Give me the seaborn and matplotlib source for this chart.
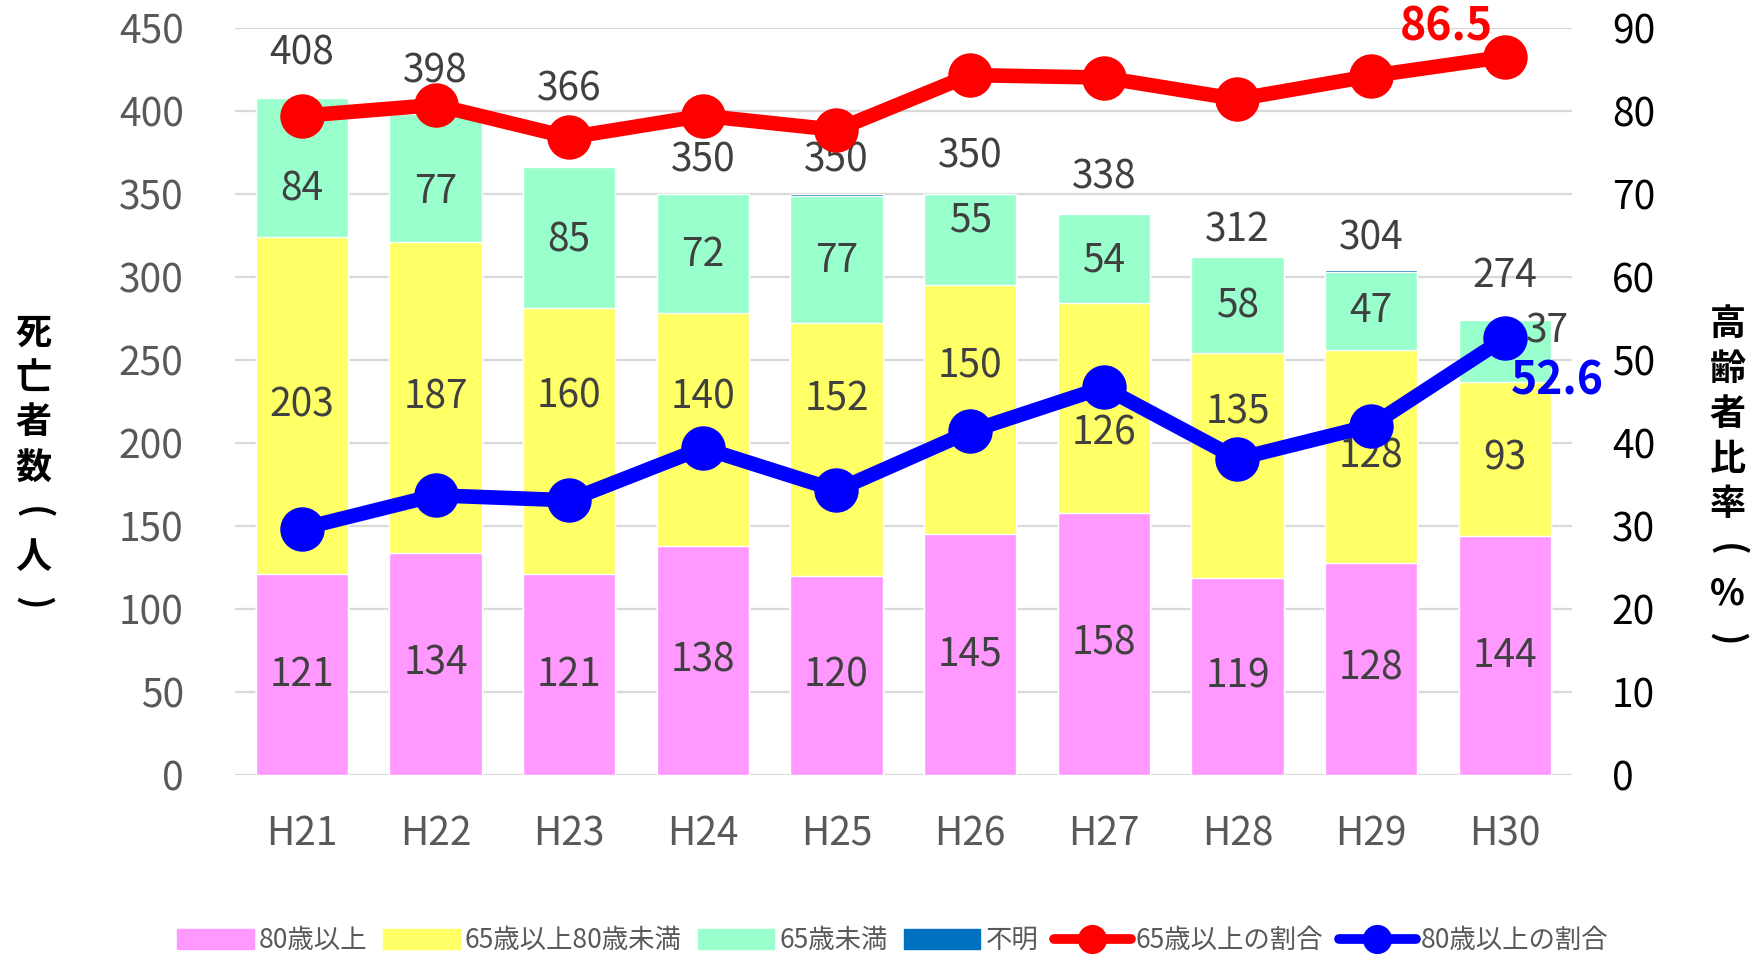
import numpy as np
import pandas as pd
import seaborn as sns
import matplotlib.pyplot as plt
from matplotlib.patches import Patch
from matplotlib.lines import Line2D

years = ['H21', 'H22', 'H23', 'H24', 'H25', 'H26', 'H27', 'H28', 'H29', 'H30']
over80 = [121, 134, 121, 138, 120, 145, 158, 119, 128, 144]
age65_80 = [203, 187, 160, 140, 152, 150, 126, 135, 128, 93]
under65 = [84, 77, 85, 72, 77, 55, 54, 58, 47, 37]
unknown = [0, 0, 0, 0, 1, 0, 0, 0, 1, 0]
totals = [408, 398, 366, 350, 350, 350, 338, 312, 304, 274]
ratio65 = [79.4, 80.7, 76.8, 79.4, 77.7, 84.3, 84.0, 81.4, 84.2, 86.5]
ratio80 = [29.7, 33.7, 33.1, 39.4, 34.3, 41.4, 46.7, 38.1, 42.1, 52.6]

# label nudges (points), the original chart had hand-moved labels
total_dy = [32, 31, 56, 24, 24, 27, 26, 19, 23, 32]
yellow_dy = [0, 0, 32, 23, 36, 31, -18, 38, 0, 0]
mint_dy = [-16, -10, -2, -1, -1, 14, -1, -1, 0, 14]
mint_dx = [0, 0, 0, 0, 0, 0, 0, 0, 0, 31]

PINK = '#FF99FF'
YELLOW = '#FFFF66'
MINT = '#99FFCC'
UNK = '#0070C0'
RED = '#FF0000'
BLUE = '#0000FF'
TXT = '#404040'
TICK = '#595959'
FS = 28

sns.set_theme(style='white')
plt.rcParams['font.family'] = ['Noto Sans CJK JP', 'DejaVu Sans']

df = pd.DataFrame({'year': years, 'p': over80, 'y': age65_80, 'm': under65, 'u': unknown})
df['c1'] = df['p']
df['c2'] = df['c1'] + df['y']
df['c3'] = df['c2'] + df['m']
df['c4'] = df['c3'] + df['u']

fig = plt.figure(figsize=(17.54, 9.57), dpi=100)
ax = fig.add_axes([0.134, 0.190, 0.762, 0.781])

W = 0.69
for col, c in [('c4', UNK), ('c3', MINT), ('c2', YELLOW), ('c1', PINK)]:
    sns.barplot(data=df, x='year', y=col, color=c, saturation=1, width=W, ax=ax, zorder=2)

ax.set_ylim(0, 450)
ax.set_yticks(np.arange(0, 451, 50))
ax.set_xlim(-0.5, 9.5)
ax.yaxis.grid(True, color='#D9D9D9', linewidth=1.6, zorder=0)
ax.set_axisbelow(True)
for s in ax.spines.values():
    s.set_visible(False)
ax.tick_params(axis='y', labelsize=FS, labelcolor=TICK, length=0, pad=37)
ax.tick_params(axis='x', labelsize=FS, labelcolor=TICK, length=0, pad=28)
ax.set_xlabel('')
ax.set_ylabel('')

for i in range(len(years)):
    ax.annotate(str(over80[i]), (i, over80[i] / 2), ha='center', va='center',
                fontsize=FS, color=TXT, zorder=3)
    ax.annotate(str(age65_80[i]), (i, over80[i] + age65_80[i] / 2), xytext=(0, yellow_dy[i]),
                textcoords='offset points', ha='center', va='center', fontsize=FS, color=TXT, zorder=3)
    ax.annotate(str(under65[i]), (i, over80[i] + age65_80[i] + under65[i] / 2),
                xytext=(mint_dx[i], mint_dy[i]), textcoords='offset points',
                ha='center', va='center', fontsize=FS, color=TXT, zorder=3)
    ax.annotate(str(totals[i]), (i, totals[i]), xytext=(0, total_dy[i]), textcoords='offset points',
                ha='center', va='center', fontsize=FS, color=TXT, zorder=3)

ax2 = ax.twinx()
x = np.arange(len(years))
sns.lineplot(x=x, y=ratio65, color=RED, linewidth=10.5, marker='o', markersize=32,
             markeredgewidth=0, ax=ax2, zorder=4)
sns.lineplot(x=x, y=ratio80, color=BLUE, linewidth=10.5, marker='o', markersize=32,
             markeredgewidth=0, ax=ax2, zorder=4)
ax2.set_ylim(0, 90)
ax2.set_yticks(np.arange(0, 91, 10))
ax2.set_xlim(-0.5, 9.5)
for s in ax2.spines.values():
    s.set_visible(False)
ax2.tick_params(axis='y', labelsize=FS, labelcolor='#000000', length=0, pad=29)
ax2.grid(False)

ax2.annotate(f'{ratio65[-1]:.1f}', (9, ratio65[-1]), xytext=(-42, 21), textcoords='offset points',
             ha='center', va='center', fontsize=32, fontweight='bold', color=RED)
ax2.annotate(f'{ratio80[-1]:.1f}', (9, ratio80[-1]), xytext=(38, -31), textcoords='offset points',
             ha='center', va='center', fontsize=32, fontweight='bold', color=BLUE)


def vertical_label(xf, ytop, chars, step):
    # stacked vertical text, brackets turned sideways like vertical writing
    for k, ch in enumerate(chars):
        rot = -90 if ch in '()' else 0
        fig.text(xf, ytop - k * step, ch, ha='center', va='center', fontsize=26,
                 fontweight='bold', color='black', rotation=rot)


vertical_label(0.019, 0.652, '死亡者数(人)', 0.047)
vertical_label(0.985, 0.661, '高齢者比率(%)', 0.047)

handles = [
    Patch(color=PINK, label='80歳以上'),
    Patch(color=YELLOW, label='65歳以上80歳未満'),
    Patch(color=MINT, label='65歳未満'),
    Patch(color=UNK, label='不明'),
    Line2D([], [], color=RED, linewidth=7, marker='o', markersize=20, label='65歳以上の割合'),
    Line2D([], [], color=BLUE, linewidth=7, marker='o', markersize=20, label='80歳以上の割合'),
]
leg = fig.legend(handles=handles, loc='center', bbox_to_anchor=(0.509, 0.017), ncol=6,
                 frameon=False, fontsize=19, handlelength=2.9, handleheight=0.8,
                 columnspacing=0.6, handletextpad=0.2)
for t in leg.get_texts():
    t.set_color(TICK)

fig.savefig('out.png', dpi=100)
